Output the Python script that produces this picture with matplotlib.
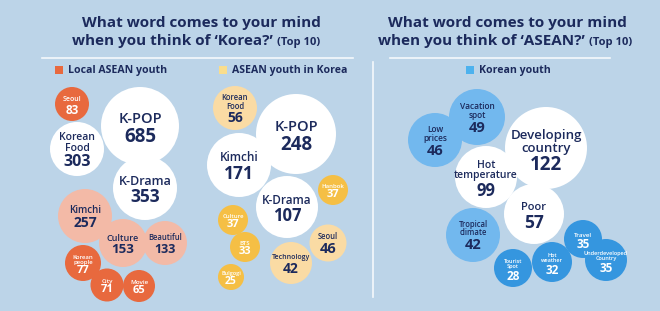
import matplotlib
matplotlib.use("Agg")
import matplotlib.pyplot as plt
from matplotlib.patches import Circle, Rectangle

plt.rcParams['font.family'] = ['Open Sans', 'DejaVu Sans']

# ---- data ----
local_words = ['K-POP', 'Korean\nFood', 'K-Drama', 'Seoul', 'Kimchi', 'Culture',
               'Beautiful', 'Korean\npeople', 'City', 'Movie']
local_counts = [685, 303, 353, 83, 257, 153, 133, 77, 71, 65]
local_tier = ['top', 'top', 'top', 'low', 'mid', 'mid', 'mid', 'low', 'low', 'low']

inkr_words = ['K-POP', 'Kimchi', 'K-Drama', 'Korean\nFood', 'Hanbok', 'Culture',
              'BTS', 'Bulgogi', 'Technology', 'Seoul']
inkr_counts = [248, 171, 107, 56, 37, 37, 33, 25, 42, 46]
inkr_tier = ['top', 'top', 'top', 'mid', 'low', 'low', 'low', 'low', 'mid', 'mid']

kr_words = ['Developing\ncountry', 'Hot\ntemperature', 'Poor', 'Vacation\nspot',
            'Low\nprices', 'Tropical\nclimate', 'Tourist\nSpot', 'Hot\nweather',
            'Travel', 'Underdeveloped\nCountry']
kr_counts = [122, 99, 57, 49, 46, 42, 28, 32, 35, 35]
kr_tier = ['top', 'top', 'top', 'mid', 'mid', 'mid', 'low', 'low', 'low', 'low']

# ---- layout (pixel space of the 660x311 canvas) ----
local_x = [140, 77, 145, 72, 85, 123, 165, 83, 107, 139]
local_y = [126, 149, 188, 104, 216, 243, 243, 263, 285, 286]
local_r = [39, 27, 32, 17, 27, 24, 22, 18, 16.5, 16]
local_fw = [10.5, 7.5, 9, 5, 7, 6.5, 5.5, 4.3, 4.5, 4.5]
local_fn = [13.5, 11.5, 12.5, 8.5, 10, 9.5, 9, 8, 8, 8]

inkr_x = [296, 239, 287, 235, 333, 233, 245, 231, 291, 328]
inkr_y = [134, 165, 207, 108, 190, 220, 247, 277, 263, 243]
inkr_r = [40, 32, 31, 22, 15, 15, 15, 13, 21, 18.5]
inkr_fw = [10.5, 8.5, 8.5, 5.5, 4.3, 4.3, 4.3, 4, 5, 5.5]
inkr_fn = [13.5, 12.5, 12, 10, 8, 8, 8, 7.5, 10, 10.5]

kr_x = [546, 486, 534, 477, 435, 473, 513, 552, 583, 606]
kr_y = [148, 177, 214, 117, 140, 235, 268, 262, 239, 260]
kr_r = [41, 31, 30, 28, 27, 27, 19, 20, 19, 21]
kr_fw = [9.5, 7.5, 8, 6, 6, 5.5, 4, 4, 4.5, 4]
kr_fn = [13.5, 12, 12.5, 10.5, 10.5, 10.5, 8.5, 8.5, 8.5, 8.5]

BG = '#BCD4E8'
NAVY = '#1C2A5C'
local_colors = {'top': ('white', NAVY), 'mid': ('#F3BAA7', NAVY), 'low': ('#E8693E', 'white')}
inkr_colors = {'top': ('white', NAVY), 'mid': ('#FADBA4', NAVY), 'low': ('#F5BF45', 'white')}
kr_colors = {'top': ('white', NAVY), 'mid': ('#72B8EE', NAVY), 'low': ('#3596DF', 'white')}

PX = 100 / 72  # pixels per point


def draw_cluster(ax, words, counts, tiers, xs, ys, rs, fws, fns, colors):
    # coloured bubbles first, white ones on top
    order = sorted(range(len(words)), key=lambda i: tiers[i] == 'top')
    for i in order:
        face, tc = colors[tiers[i]]
        ax.add_patch(Circle((xs[i], ys[i]), rs[i], facecolor=face, edgecolor='none', zorder=2))
        nlines = words[i].count('\n') + 1
        hw = nlines * fws[i] * PX * 1.05
        hn = fns[i] * PX * 0.78
        split = ys[i] - (hw + hn) / 2 + hw
        ax.text(xs[i], split, words[i], ha='center', va='bottom', fontsize=fws[i],
                color=tc, fontweight='semibold', linespacing=0.95, zorder=3)
        ax.text(xs[i], split + 0.5, str(counts[i]), ha='center', va='top', fontsize=fns[i],
                color=tc, fontweight='bold', zorder=3)


fig = plt.figure(figsize=(6.6, 3.11), dpi=100)
fig.patch.set_facecolor(BG)
ax = fig.add_axes([0, 0, 1, 1])
ax.set_xlim(0, 660)
ax.set_ylim(311, 0)
ax.axis('off')

# titles
ax.text(201, 23, 'What word comes to your mind', ha='center', va='center',
        fontsize=11, fontweight='bold', color=NAVY)
ax.text(273, 41, 'when you think of \u2018Korea?\u2019', ha='right', va='center',
        fontsize=11, fontweight='bold', color=NAVY)
ax.text(277, 42, '(Top 10)', ha='left', va='center', fontsize=8, fontweight='bold', color=NAVY)

ax.text(507, 23, 'What word comes to your mind', ha='center', va='center',
        fontsize=11, fontweight='bold', color=NAVY)
ax.text(585, 41, 'when you think of \u2018ASEAN?\u2019', ha='right', va='center',
        fontsize=11, fontweight='bold', color=NAVY)
ax.text(589, 42, '(Top 10)', ha='left', va='center', fontsize=8, fontweight='bold', color=NAVY)

# separators
ax.plot([42, 353], [58, 58], color='white', lw=1.2, alpha=0.85)
ax.plot([390, 610], [58, 58], color='white', lw=1.2, alpha=0.85)
ax.plot([373, 373], [62, 297], color='white', lw=1.2, alpha=0.85)

# legends
for sx, label, col in [(55, 'Local ASEAN youth', '#E8693E'),
                       (219, 'ASEAN youth in Korea', '#F9DD8C'),
                       (466, 'Korean youth', '#4DB2EE')]:
    ax.add_patch(Rectangle((sx, 66), 8, 8, facecolor=col, edgecolor='none'))
    ax.text(sx + 13, 70.5, label, ha='left', va='center', fontsize=7.6,
            fontweight='bold', color=NAVY)

draw_cluster(ax, local_words, local_counts, local_tier, local_x, local_y, local_r,
             local_fw, local_fn, local_colors)
draw_cluster(ax, inkr_words, inkr_counts, inkr_tier, inkr_x, inkr_y, inkr_r,
             inkr_fw, inkr_fn, inkr_colors)
draw_cluster(ax, kr_words, kr_counts, kr_tier, kr_x, kr_y, kr_r,
             kr_fw, kr_fn, kr_colors)

fig.savefig('out.png', dpi=100, facecolor=BG)
